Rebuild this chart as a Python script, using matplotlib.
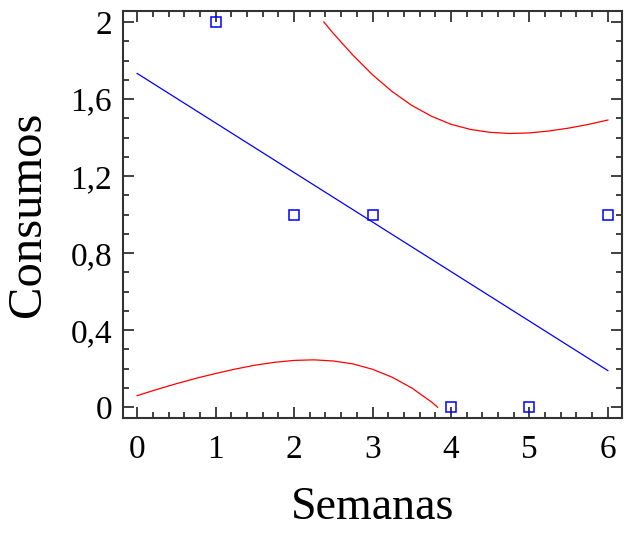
import matplotlib
matplotlib.use("Agg")
import matplotlib.pyplot as plt
from matplotlib.ticker import MultipleLocator, FuncFormatter

# observed points
semanas = [1, 2, 3, 4, 5, 6]
consumos = [2, 1, 1, 0, 0, 1]

# fitted line (endpoints)
fit_x = [0, 6]
fit_y = [1.733, 0.190]

# red bands (clipped at 0 and 2)
low_x = [0, 0.25, 0.5, 0.75, 1, 1.25, 1.5, 1.75, 2, 2.25, 2.5, 2.75,
         3, 3.25, 3.5, 3.75, 3.83]
low_y = [0.060, 0.092, 0.122, 0.150, 0.175, 0.198, 0.218, 0.233, 0.243,
         0.246, 0.240, 0.225, 0.197, 0.156, 0.100, 0.028, 0.0]
up_x = [2.38, 2.5, 2.75, 3, 3.25, 3.5, 3.75, 4, 4.25, 4.5, 4.75, 5,
        5.25, 5.5, 5.75, 6]
up_y = [2.0, 1.941, 1.828, 1.726, 1.639, 1.567, 1.511, 1.469, 1.442,
        1.427, 1.421, 1.424, 1.434, 1.449, 1.468, 1.491]

plt.rcParams['font.family'] = ['Liberation Serif', 'DejaVu Serif']

fig = plt.figure(figsize=(6.25, 5.36), dpi=100)
ax = fig.add_axes([123/625, 1 - 418/536, (622-123)/625, (418-11)/536])

ax.plot(fit_x, fit_y, color='#0000ff', linewidth=0.9)
ax.plot(low_x, low_y, color='#ff0000', linewidth=0.9)
ax.plot(up_x, up_y, color='#ff0000', linewidth=0.9)
ax.plot(semanas, consumos, linestyle='none', marker='s', markersize=7.5,
        markerfacecolor='none', markeredgecolor='#0000ff', markeredgewidth=1.1)

ax.set_xlim(-0.18, 6.18)
ax.set_ylim(-0.056, 2.057)
ax.xaxis.set_major_locator(MultipleLocator(1))
ax.xaxis.set_minor_locator(MultipleLocator(0.2))
ax.yaxis.set_major_locator(MultipleLocator(0.4))
ax.yaxis.set_minor_locator(MultipleLocator(0.1))
ax.yaxis.set_major_formatter(FuncFormatter(lambda v, p: ('%g' % round(v, 1)).replace('.', ',')))

ax.tick_params(which='both', direction='in', top=True, right=True, colors='#333333',
               labelcolor='black', labelsize=24)
ax.tick_params(which='major', length=8, width=1.3)
ax.tick_params(which='minor', length=4, width=1.3)
ax.tick_params(axis='x', which='major', pad=12)
ax.tick_params(axis='y', which='major', pad=8)
for s in ax.spines.values():
    s.set_linewidth(1.5)
    s.set_color('#333333')

ax.set_xlabel('Semanas', fontsize=33, va='center')
ax.set_ylabel('Consumos', fontsize=35, va='center')
ax.xaxis.set_label_coords(0.5, (418 - 508) / 407)
ax.yaxis.set_label_coords((28 - 123) / 499, 0.5)

fig.savefig('out.png', dpi=100)
